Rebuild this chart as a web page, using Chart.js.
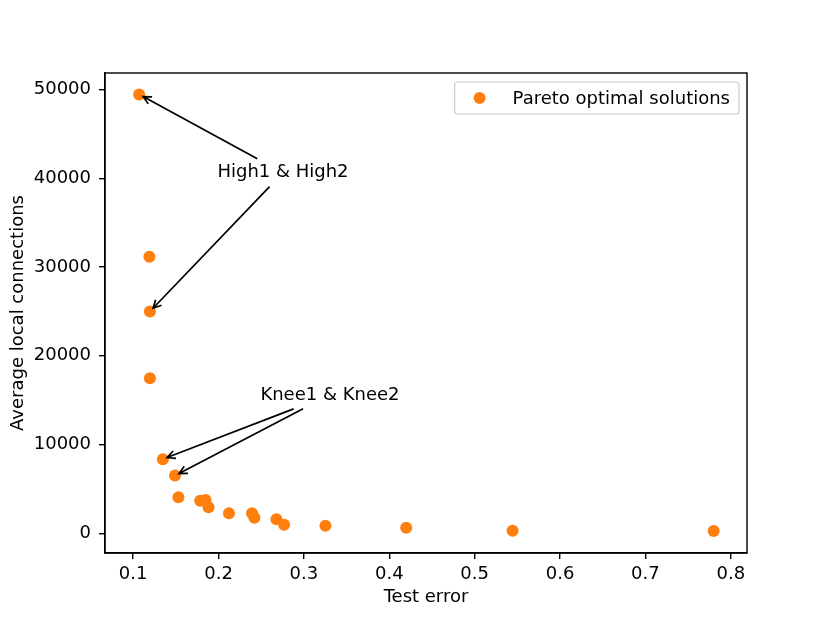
<!DOCTYPE html>
<html>
<head>
<meta charset="utf-8">
<script src="https://cdn.jsdelivr.net/npm/chart.js@4"></script>
<style>
  html, body { margin: 0; padding: 0; background: #fff; }
  canvas { display: block; }
</style>
</head>
<body>
<canvas id="myChart" width="830" height="622"></canvas>
<script>
// values
const testError = [0.107, 0.119, 0.1196, 0.1196, 0.1348, 0.149, 0.153, 0.1785, 0.1848, 0.1883,
  0.2122, 0.2392, 0.242, 0.2678, 0.2768, 0.3252, 0.4198, 0.5444, 0.78];
const connections = [49450, 31160, 24990, 17480, 8350, 6500, 4060, 3680, 3760, 2930,
  2260, 2260, 1760, 1580, 970, 860, 630, 290, 260];

const xTicks = [0.1, 0.2, 0.3, 0.4, 0.5, 0.6, 0.7, 0.8];
const xTickLabels = ["0.1", "0.2", "0.3", "0.4", "0.5", "0.6", "0.7", "0.8"];
const yTicks = [0, 10000, 20000, 30000, 40000, 50000];
const yTickLabels = ["0", "10000", "20000", "30000", "40000", "50000"];

// annotation text (data coords) and the point indexes they point at
const notes = [
  { text: "High1 & High2", x: 0.2755, y: 40630, targets: [0, 2] },
  { text: "Knee1 & Knee2", x: 0.3305, y: 15600, targets: [4, 5] },
];

const FONT = '"DejaVu Sans", sans-serif';

// frame round the axes + arrows with text
const extras = {
  id: "extras",
  afterDatasetsDraw(chart) {
    const { ctx, chartArea: a, scales: { x, y } } = chart;
    ctx.save();
    ctx.strokeStyle = "#000";
    ctx.lineWidth = 1.4;
    ctx.strokeRect(a.left, a.top, a.right - a.left, a.bottom - a.top);

    ctx.font = "18px " + FONT;
    ctx.textAlign = "center";
    ctx.textBaseline = "middle";
    notes.forEach((n) => {
      const cx = x.getPixelForValue(n.x);
      const cy = y.getPixelForValue(n.y);
      ctx.fillStyle = "#000";
      ctx.fillText(n.text, cx, cy);
      const hw = ctx.measureText(n.text).width / 2 + 5;
      const hh = 14;
      n.targets.forEach((i) => {
        const tx = x.getPixelForValue(testError[i]);
        const ty = y.getPixelForValue(connections[i]);
        const dx = tx - cx, dy = ty - cy;
        const s = Math.min(hw / Math.abs(dx), hh / Math.abs(dy));
        const sx = cx + dx * s, sy = cy + dy * s;
        const len = Math.hypot(tx - sx, ty - sy);
        const ux = (tx - sx) / len, uy = (ty - sy) / len;
        const ex = tx - ux * 4.5, ey = ty - uy * 4.5;
        ctx.lineWidth = 1.7;
        ctx.beginPath();
        ctx.moveTo(sx, sy);
        ctx.lineTo(ex, ey);
        // open arrow head
        const hl = 8, hwid = 4;
        ctx.moveTo(ex - ux * hl - uy * hwid, ey - uy * hl + ux * hwid);
        ctx.lineTo(ex, ey);
        ctx.lineTo(ex - ux * hl + uy * hwid, ey - uy * hl - ux * hwid);
        ctx.stroke();
      });
    });
    ctx.restore();
  },
  afterDraw(chart) {
    // legend box in the upper right corner of the axes
    const { ctx, chartArea: a } = chart;
    const ds = chart.data.datasets[0];
    ctx.save();
    ctx.font = "18px " + FONT;
    const tw = ctx.measureText(ds.label).width;
    const w = tw + 58 + 9, h = 32;
    const left = a.right - 8 - w, top = a.top + 9;
    ctx.beginPath();
    ctx.roundRect(left, top, w, h, 3);
    ctx.fillStyle = "rgba(255,255,255,0.8)";
    ctx.fill();
    ctx.strokeStyle = "#cccccc";
    ctx.lineWidth = 1.2;
    ctx.stroke();
    ctx.beginPath();
    ctx.arc(left + 25, top + h / 2, 6, 0, Math.PI * 2);
    ctx.fillStyle = ds.backgroundColor;
    ctx.fill();
    ctx.fillStyle = "#000";
    ctx.textAlign = "left";
    ctx.textBaseline = "middle";
    ctx.fillText(ds.label, left + 58, top + h / 2 + 1);
    ctx.restore();
  },
};

const ctx = document.getElementById("myChart");
new Chart(ctx, {
  type: "scatter",
  data: {
    datasets: [
      {
        label: "Pareto optimal solutions",
        data: testError.map((v, i) => ({ x: v, y: connections[i] })),
        backgroundColor: "#ff7f0e",
        borderWidth: 0,
        pointRadius: 6,
        pointHoverRadius: 6,
      },
    ],
  },
  options: {
    responsive: false,
    animation: false,
    layout: { padding: { left: 0, top: 73, right: 83, bottom: 0 } },
    plugins: {
      legend: { display: false },
      tooltip: { enabled: false },
    },
    scales: {
      x: {
        type: "linear",
        min: 0.067,
        max: 0.819,
        afterBuildTicks: (s) => { s.ticks = xTicks.map((v) => ({ value: v })); },
        afterFit: (s) => { s.height = 69; },
        ticks: {
          color: "#000",
          font: { family: FONT, size: 18 },
          padding: 5,
          maxRotation: 0,
          callback: (v, i) => xTickLabels[i],
        },
        grid: { drawOnChartArea: false, drawTicks: true, tickLength: 6, color: "#000", lineWidth: 1.4 },
        border: { display: true, color: "#000", width: 1.4 },
        title: {
          display: true,
          text: "Test error",
          color: "#000",
          font: { family: FONT, size: 18 },
          padding: { top: 0, bottom: 14 },
        },
      },
      y: {
        type: "linear",
        min: -2220,
        max: 51860,
        afterBuildTicks: (s) => { s.ticks = yTicks.map((v) => ({ value: v })); },
        afterFit: (s) => { s.width = 105; },
        ticks: {
          color: "#000",
          font: { family: FONT, size: 18 },
          padding: 8,
          callback: (v, i) => yTickLabels[i],
        },
        grid: { drawOnChartArea: false, drawTicks: true, tickLength: 6, color: "#000", lineWidth: 1.4 },
        border: { display: true, color: "#000", width: 1.4 },
        title: {
          display: true,
          text: "Average local connections",
          color: "#000",
          font: { family: FONT, size: 18 },
          padding: { top: 8, bottom: 0 },
        },
      },
    },
  },
  plugins: [extras],
});
</script>
</body>
</html>
